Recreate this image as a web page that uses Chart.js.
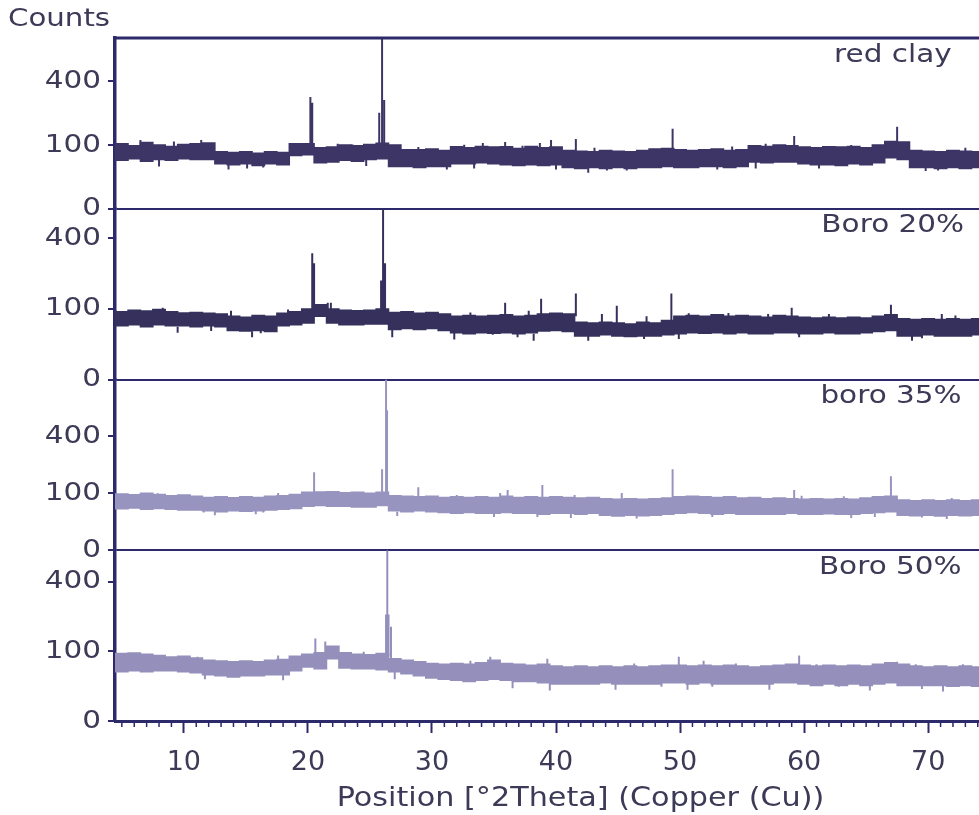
<!DOCTYPE html>
<html>
<head>
<meta charset="utf-8">
<script src="https://cdn.jsdelivr.net/npm/chart.js@4.4.1/dist/chart.umd.min.js"></script>
<style>
  html, body { margin: 0; padding: 0; background: #fff; overflow: hidden; }
  #wrap { width: 1051px; height: 815px; }
</style>
</head>
<body>
<div id="wrap"><canvas id="xrd" width="1051" height="815"></canvas></div>
<script>
// XRD patterns, four stacked panels on a square-root count scale

// x grid of the background envelope, degrees 2theta
const degrees = [
  4, 5, 6, 7, 8, 9, 10, 11, 12, 13,
  14, 15, 16, 17, 18, 19, 20, 21, 22, 23,
  24, 25, 26, 27, 28, 29, 30, 31, 32, 33,
  34, 35, 36, 37, 38, 39, 40, 41, 42, 43,
  44, 45, 46, 47, 48, 49, 50, 51, 52, 53,
  54, 55, 56, 57, 58, 59, 60, 61, 62, 63,
  64, 65, 66, 67, 68, 69, 70, 71, 72, 73,
  74, 75
];

const panelNames = ['red clay', 'Boro 20%', 'boro 35%', 'Boro 50%'];
const labelDegrees = [71.9, 72.9, 72.7, 72.7];
const panelMax = [720, 585, 900, 600];
const countTicks = [0, 100, 400];
const xTitle = 'Position [°2Theta] (Copper (Cu))';
const yTitle = 'Counts';

// red clay: top and bottom of the noise band
const redClayUpper = [
  100, 104, 98, 108, 100, 96, 102, 104, 107, 80,
  78, 80, 76, 80, 78, 104, 104, 92, 94, 100,
  98, 102, 106, 100, 86, 86, 88, 84, 95, 92,
  96, 94, 95, 90, 96, 92, 94, 84, 82, 80,
  84, 82, 80, 84, 88, 90, 86, 84, 86, 88,
  84, 86, 98, 96, 100, 98, 94, 92, 95, 94,
  96, 92, 100, 112, 110, 84, 82, 80, 84, 82,
  80, 82
];
const redClayLower = [
  60, 58, 62, 56, 60, 58, 62, 60, 60, 50,
  48, 50, 46, 50, 48, 70, 72, 52, 54, 58,
  56, 60, 62, 44, 44, 42, 44, 44, 50, 50,
  52, 50, 48, 46, 48, 46, 48, 42, 40, 42,
  40, 42, 40, 42, 42, 44, 42, 42, 44, 44,
  42, 44, 54, 52, 54, 54, 50, 48, 48, 46,
  50, 48, 52, 64, 60, 42, 42, 40, 42, 40,
  42, 40
];
// [position, foot, tip]: diffraction peaks and the taller noise spikes
const redClayPeaks = [
  [6.5, 90, 117], [9.2, 80, 112], [11.4, 85, 117], [20.2, 85, 309], [20.35, 85, 277],
  [22.4, 75, 104], [23.6, 75, 102], [25.75, 95, 227], [25.98, 95, 720], [26.15, 90, 292],
  [28.9, 70, 94], [32.6, 70, 101], [34.1, 70, 107], [35.9, 85, 110], [37.3, 70, 98],
  [38.7, 85, 107], [39.6, 85, 117], [41.6, 80, 120], [43.1, 65, 92], [49.4, 80, 158],
  [54.2, 65, 96], [56.9, 70, 104], [59.2, 85, 131], [63.8, 70, 100], [67.5, 90, 166],
  [73.0, 65, 92],
  [8.0, 60, 44], [13.6, 50, 38], [15.1, 60, 40], [16.4, 60, 42], [24.7, 70, 45],
  [31.2, 60, 38], [33.4, 50, 40], [40.0, 60, 38], [42.6, 55, 32], [44.1, 55, 36],
  [45.7, 55, 36], [53.0, 48, 38], [56.1, 60, 40], [61.2, 60, 40], [69.8, 55, 35],
  [70.8, 55, 36]
];

const boro20Upper = [
  95, 92, 96, 94, 98, 92, 89, 90, 88, 86,
  80, 78, 82, 80, 88, 92, 100, 112, 100, 96,
  95, 96, 100, 90, 92, 88, 90, 86, 80, 82,
  80, 82, 84, 80, 82, 86, 88, 86, 66, 64,
  66, 64, 62, 66, 64, 70, 80, 82, 80, 84,
  80, 82, 80, 78, 82, 80, 78, 76, 78, 76,
  78, 76, 80, 84, 74, 72, 74, 72, 74, 72,
  74, 72
];
const boro20Lower = [
  60, 58, 60, 56, 60, 58, 58, 56, 58, 56,
  48, 47, 48, 46, 58, 60, 64, 80, 64, 60,
  60, 62, 62, 50, 52, 50, 52, 48, 44, 42,
  44, 43, 44, 42, 44, 47, 48, 46, 38, 38,
  40, 38, 37, 38, 38, 40, 42, 44, 43, 44,
  42, 44, 42, 42, 44, 44, 42, 42, 44, 42,
  42, 44, 46, 48, 38, 38, 40, 38, 38, 38,
  40, 38
];
const boro20Peaks = [
  [8.3, 75, 103], [13.8, 70, 95], [18.4, 75, 98], [20.35, 90, 320], [20.5, 90, 271],
  [21.6, 95, 118], [21.85, 95, 118], [25.9, 100, 197], [26.06, 100, 585], [26.22, 95, 271],
  [33.1, 65, 90], [35.9, 80, 118], [37.8, 65, 95], [38.8, 80, 131], [41.6, 80, 148],
  [43.7, 55, 86], [44.9, 60, 109], [47.3, 55, 80], [49.3, 70, 148], [50.7, 65, 88],
  [53.9, 75, 89], [57.1, 65, 86], [59.0, 75, 103], [62.0, 60, 86], [67.0, 80, 112],
  [71.1, 60, 86], [72.2, 60, 82],
  [9.5, 56, 44], [12.2, 60, 47], [15.5, 46, 36], [16.2, 60, 43], [26.8, 50, 36],
  [31.8, 44, 32], [34.9, 55, 40], [36.9, 55, 36], [38.2, 42, 30], [42.6, 38, 30],
  [47.1, 50, 33], [49.9, 50, 33], [59.6, 55, 36], [68.7, 38, 30], [69.5, 50, 34]
];

const boro35Upper = [
  96, 98, 95, 100, 96, 92, 94, 90, 86, 88,
  85, 88, 86, 90, 92, 96, 104, 105, 106, 102,
  104, 100, 104, 92, 90, 88, 90, 86, 88, 86,
  88, 86, 90, 86, 88, 86, 88, 86, 84, 86,
  82, 80, 82, 80, 82, 84, 88, 90, 88, 86,
  88, 84, 86, 82, 84, 82, 80, 82, 80, 82,
  80, 84, 88, 90, 78, 76, 78, 76, 78, 76,
  78, 76
];
const boro35Lower = [
  54, 53, 55, 52, 54, 52, 50, 50, 48, 46,
  48, 47, 48, 50, 52, 54, 60, 62, 60, 60,
  58, 58, 62, 48, 46, 48, 46, 44, 42, 44,
  42, 42, 44, 42, 42, 40, 42, 42, 40, 42,
  38, 36, 38, 37, 38, 40, 42, 44, 42, 40,
  42, 40, 40, 40, 40, 42, 40, 40, 41, 40,
  40, 42, 44, 46, 38, 37, 38, 36, 38, 37,
  38, 36
];
const boro35Peaks = [
  [7.9, 75, 100], [17.6, 72, 101], [18.8, 72, 98], [20.5, 95, 188], [25.98, 100, 202],
  [26.3, 100, 900], [26.38, 95, 606], [28.9, 88, 123], [32.0, 65, 94], [35.5, 65, 101],
  [36.1, 85, 112], [38.9, 85, 131], [41.5, 65, 94], [45.3, 80, 101], [49.4, 85, 202],
  [54.2, 62, 90], [59.2, 80, 112], [59.8, 62, 92], [63.2, 62, 90], [67.0, 85, 169],
  [71.9, 58, 84],
  [11.6, 62, 44], [12.5, 48, 38], [15.8, 48, 40], [16.4, 62, 44], [27.2, 46, 36],
  [35.0, 42, 34], [38.5, 55, 34], [41.2, 42, 32], [46.5, 52, 31], [52.6, 55, 34],
  [63.8, 40, 32], [65.7, 55, 34], [69.5, 52, 33], [71.5, 36, 30]
];

const boro50Upper = [
  92, 94, 95, 92, 88, 84, 86, 82, 76, 74,
  72, 74, 72, 76, 78, 86, 92, 96, 115, 96,
  92, 90, 94, 80, 76, 72, 68, 66, 68, 66,
  70, 76, 68, 66, 64, 66, 62, 60, 62, 60,
  62, 60, 62, 60, 62, 64, 64, 62, 64, 62,
  64, 62, 60, 62, 64, 66, 64, 62, 64, 62,
  64, 62, 66, 70, 66, 62, 60, 62, 60, 62,
  60, 62
];
const boro50Lower = [
  52, 50, 52, 50, 52, 52, 50, 48, 44, 42,
  40, 42, 42, 44, 44, 52, 60, 56, 80, 58,
  56, 56, 54, 50, 46, 42, 38, 36, 34, 32,
  34, 36, 34, 32, 32, 30, 28, 28, 28, 28,
  30, 28, 28, 28, 28, 30, 30, 28, 30, 28,
  28, 28, 28, 28, 30, 30, 28, 26, 28, 26,
  28, 26, 28, 30, 26, 26, 26, 26, 25, 26,
  25, 26
];
const boro50Peaks = [
  [6.4, 72, 93], [11.1, 65, 85], [17.6, 60, 88], [20.6, 75, 140], [21.4, 90, 130],
  [24.5, 75, 99], [26.3, 85, 233], [26.4, 85, 600], [26.5, 85, 233], [26.7, 80, 183],
  [33.1, 50, 75], [34.7, 60, 85], [39.3, 55, 80], [46.3, 45, 68], [49.9, 55, 85],
  [51.9, 55, 75], [54.5, 45, 68], [59.6, 55, 88], [61.0, 45, 66], [67.5, 55, 72],
  [69.0, 45, 66], [72.8, 45, 66],
  [11.7, 48, 36], [14.0, 55, 40], [18.0, 44, 34], [27.0, 50, 36], [36.5, 34, 22],
  [39.5, 40, 19], [44.8, 28, 20], [48.5, 40, 24], [50.6, 28, 20], [52.6, 40, 24],
  [57.2, 28, 20], [62.8, 40, 24], [65.3, 26, 19], [69.5, 40, 21], [71.2, 26, 18]
];

const upperSeries = [redClayUpper, boro20Upper, boro35Upper, boro50Upper];
const lowerSeries = [redClayLower, boro20Lower, boro35Lower, boro50Lower];
const peakSeries = [redClayPeaks, boro20Peaks, boro35Peaks, boro50Peaks];

const traceColors = ['#3d3566', '#35305c', '#9794bf', '#9490bb'];
const axisColor = '#2c2a6b';
const textColor = '#3c3a56';
const fontFamily = "'DejaVu Sans', 'Verdana', sans-serif";

// square-root count axis
class SqrtScale extends Chart.LinearScale {
  buildTicks() {
    return countTicks.map(v => ({ value: v }));
  }
  getPixelForValue(value) {
    const lo = Math.sqrt(this.min), hi = Math.sqrt(this.max);
    return this.getPixelForDecimal((Math.sqrt(Math.max(value, 0)) - lo) / (hi - lo));
  }
  getValueForPixel(pixel) {
    const lo = Math.sqrt(this.min), hi = Math.sqrt(this.max);
    const s = lo + this.getDecimalForPixel(pixel) * (hi - lo);
    return s * s;
  }
}
SqrtScale.id = 'sqrt';
SqrtScale.defaults = Chart.LinearScale.defaults;
Chart.register(SqrtScale);

// the instrument's lettering is wider than any installed face, so stretch it
function wideText(ctx, text, x, y, align, size, stretch) {
  ctx.save();
  ctx.translate(x, y);
  ctx.scale(stretch, 1);
  ctx.font = size + 'px ' + fontFamily;
  ctx.textAlign = align;
  ctx.textBaseline = 'middle';
  ctx.fillText(text, 0, 0);
  ctx.restore();
}

// right-aligned number, laid out glyph by glyph from its right edge
function countLabel(ctx, text, xRight, y, size, stretch) {
  ctx.save();
  ctx.font = size + 'px ' + fontFamily;
  ctx.textAlign = 'left';
  ctx.textBaseline = 'middle';
  const glyphs = Array.from(text);
  const widths = glyphs.map(g => ctx.measureText(g).width * stretch);
  let x = xRight - widths.reduce((a, b) => a + b, 0);
  glyphs.forEach((g, k) => {
    ctx.save();
    ctx.translate(x, y);
    ctx.scale(stretch, 1);
    ctx.fillText(g, 0, 0);
    ctx.restore();
    x += widths[k];
  });
  ctx.restore();
}

// frame top, minor x ticks and all lettering
const xrdDecor = {
  id: 'xrdDecor',
  afterDraw(chart) {
    const { ctx, chartArea, scales } = chart;
    const xs = scales.x;
    ctx.save();
    ctx.strokeStyle = axisColor;
    ctx.lineWidth = 3;
    ctx.beginPath();
    ctx.moveTo(chartArea.left, chartArea.top);
    ctx.lineTo(chartArea.right, chartArea.top);
    ctx.stroke();

    ctx.lineWidth = 1.5;
    for (let v = Math.ceil(xs.min); v <= xs.max; v++) {
      if (v % 10 === 0) continue;
      const px = xs.getPixelForValue(v);
      ctx.beginPath();
      ctx.moveTo(px, xs.top);
      ctx.lineTo(px, xs.top + 6);
      ctx.stroke();
    }

    ctx.fillStyle = textColor;
    wideText(ctx, yTitle, 8, 19, 'left', 25, 1.17);
    panelNames.forEach((name, i) => {
      const ys = scales['y' + i];
      ys.ticks.forEach(t => {
        countLabel(ctx, String(t.value), chartArea.left - 14, ys.getPixelForValue(t.value), 25, 1.18);
      });
      wideText(ctx, name, xs.getPixelForValue(labelDegrees[i]), ys.top + 17, 'right', 25, 1.18);
    });
    xs.ticks.forEach(t => {
      wideText(ctx, String(t.value), xs.getPixelForValue(t.value), xs.top + 42, 'center', 27, 1.0);
    });
    wideText(ctx, xTitle, (chartArea.left + chartArea.right) / 2, xs.top + 78, 'center', 27, 1.12);
    ctx.restore();
  }
};

const datasets = [];
panelNames.forEach((name, i) => {
  const axisId = 'y' + i;
  const color = traceColors[i];
  datasets.push({
    label: name + ' low',
    data: degrees.map((d, j) => ({ x: d, y: lowerSeries[i][j] })),
    yAxisID: axisId,
    borderColor: color,
    borderWidth: 1.5,
    pointRadius: 0,
    stepped: 'middle',
    fill: false
  });
  datasets.push({
    label: name,
    data: degrees.map((d, j) => ({ x: d, y: upperSeries[i][j] })),
    yAxisID: axisId,
    borderColor: color,
    backgroundColor: color,
    borderWidth: 1.5,
    pointRadius: 0,
    stepped: 'middle',
    fill: '-1'
  });
  const spikes = [];
  peakSeries[i].forEach(([x, foot, tip]) => {
    spikes.push({ x: x, y: foot }, { x: x, y: tip }, { x: x, y: foot }, { x: x, y: null });
  });
  datasets.push({
    label: name + ' peaks',
    data: spikes,
    yAxisID: axisId,
    borderColor: color,
    borderWidth: 2,
    pointRadius: 0,
    fill: false,
    spanGaps: false
  });
});

const scales = {
  x: {
    type: 'linear',
    position: 'bottom',
    min: 4.45,
    max: 79.5,
    afterFit: s => { s.height = 94; },
    ticks: { stepSize: 10, includeBounds: false, display: false },
    grid: { drawOnChartArea: false, tickLength: 12, tickColor: axisColor, tickWidth: 2 },
    border: { display: true, color: axisColor, width: 3 }
  }
};
panelNames.forEach((name, i) => {
  scales['y' + i] = {
    type: 'sqrt',
    position: 'left',
    stack: 'xrd',
    stackWeight: 1,
    weight: panelNames.length - i,
    min: 0,
    max: panelMax[i],
    afterFit: s => { s.width = 107; },
    ticks: { display: false },
    grid: {
      color: c => (c.tick && c.tick.value === 0 ? axisColor : 'rgba(0,0,0,0)'),
      lineWidth: c => (c.tick && c.tick.value === 0 ? 2 : 0),
      tickColor: axisColor,
      tickWidth: 2,
      tickLength: 7
    },
    border: { display: true, color: axisColor, width: 3.5 }
  };
});

new Chart(document.getElementById('xrd'), {
  type: 'line',
  data: { datasets: datasets },
  options: {
    responsive: false,
    animation: false,
    layout: { padding: { left: 8, right: 5, top: 38, bottom: 0 } },
    scales: scales,
    plugins: {
      legend: { display: false },
      tooltip: { enabled: false }
    }
  },
  plugins: [xrdDecor]
});
</script>
</body>
</html>
